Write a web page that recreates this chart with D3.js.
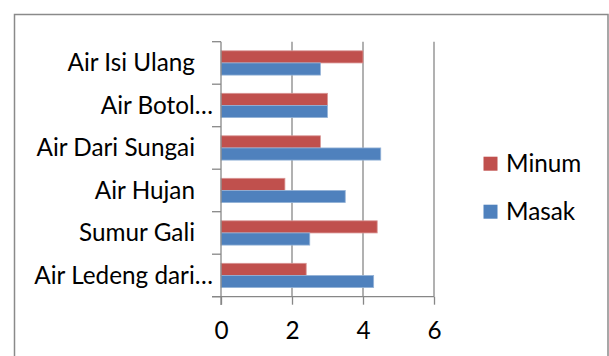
<!DOCTYPE html>
<html>
<head>
<meta charset="utf-8">
<script src="https://cdn.jsdelivr.net/npm/d3@7"></script>
<style>
  html, body { margin: 0; padding: 0; background: #fff; }
  svg { display: block; }
  text { font-family: Lato, "Open Sans", sans-serif; fill: #000; }
</style>
</head>
<body>
<svg id="chart" width="609" height="356"></svg>
<script>
const categories = ["Air Isi Ulang", "Air Botol…", "Air Dari Sungai", "Air Hujan", "Sumur Gali", "Air Ledeng dari…"];
const seriesNames = ["Minum", "Masak"];
const minum = [4.0, 3.0, 2.8, 1.8, 4.4, 2.4];
const masak = [2.8, 3.0, 4.5, 3.5, 2.5, 4.3];
const xTicks = [0, 2, 4, 6];
const colors = ["#C0504D", "#4F81BD"];
const strokes = ["#D99694", "#95B3D7"];

const seriesValues = [minum, masak];
const svg = d3.select("#chart");
const fontSize = 24.3;
const capShift = 8.4;
const gridColor = "#878787";

// outer frame
svg.append("rect").attr("x", 14.5).attr("y", 14.5).attr("width", 593.5).attr("height", 360)
  .attr("fill", "none").attr("stroke", "#8a8a8a").attr("stroke-width", 1.5);

const x = d3.scaleLinear().domain([0, 6]).range([221, 434]);
const y = d3.scaleBand().domain(categories).range([41.7, 296.7]).paddingInner(0).paddingOuter(0);
const ySub = d3.scaleBand().domain(seriesNames).range([0, y.bandwidth()]).paddingInner(0).paddingOuter(0.75);

// gridlines
svg.append("g").selectAll("line").data(xTicks.filter(t => t > 0)).join("line")
  .attr("x1", d => x(d)).attr("x2", d => x(d))
  .attr("y1", 41.7).attr("y2", 296.7)
  .attr("stroke", gridColor).attr("stroke-width", 1.3);

// bars
seriesNames.forEach((s, si) => {
  svg.append("g").selectAll("rect").data(categories).join("rect")
    .attr("x", x(0))
    .attr("y", c => y(c) + ySub(s))
    .attr("width", (c, i) => x(seriesValues[si][i]) - x(0))
    .attr("height", ySub.bandwidth())
    .attr("fill", colors[si])
    .attr("stroke", strokes[si]).attr("stroke-width", 0.8);
});

// x axis
const xAxis = d3.axisBottom(x).tickValues(xTicks).tickSize(8).tickPadding(0).tickFormat(d3.format("d"));
const gx = svg.append("g").attr("transform", "translate(0,296.7)").call(xAxis);
gx.select(".domain").remove();
gx.selectAll(".tick line").attr("stroke", gridColor).attr("stroke-width", 1.3);
gx.selectAll(".tick text").attr("y", 42.6).attr("dy", null).attr("font-size", fontSize)
  .attr("font-family", "Lato, sans-serif");
svg.append("line").attr("x1", 212).attr("x2", 434).attr("y1", 296.7).attr("y2", 296.7)
  .attr("stroke", gridColor).attr("stroke-width", 1.3);

// y axis
svg.append("line").attr("x1", 221).attr("x2", 221).attr("y1", 41.7).attr("y2", 305)
  .attr("stroke", gridColor).attr("stroke-width", 1.3);
const catTicks = categories.map(c => y(c)).concat([y.range()[1]]);
svg.append("g").selectAll("line").data(catTicks).join("line")
  .attr("x1", 212).attr("x2", 221).attr("y1", d => d).attr("y2", d => d)
  .attr("stroke", gridColor).attr("stroke-width", 1.3);

svg.append("g").selectAll("text").data(categories).join("text")
  .attr("x", c => c.endsWith("…") ? 213 : 195)
  .attr("y", c => y(c) + y.bandwidth() / 2 + capShift)
  .attr("text-anchor", "end")
  .attr("font-size", fontSize)
  .text(c => c);

// legend
const legend = svg.append("g");
seriesNames.forEach((s, i) => {
  const ly = 156.7 + i * 48;
  legend.append("rect").attr("x", 483.5).attr("y", ly).attr("width", 14).attr("height", 14)
    .attr("fill", colors[i]);
  legend.append("text").attr("x", 506).attr("y", ly + 15.6).attr("font-size", fontSize).text(s);
});
</script>
</body>
</html>
